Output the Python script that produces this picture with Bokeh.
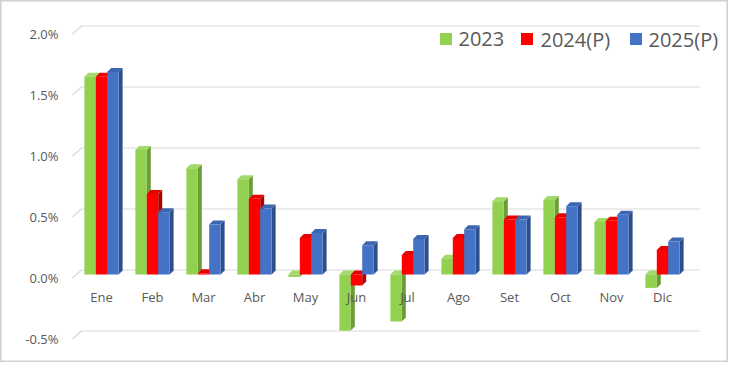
from bokeh.plotting import figure
from bokeh.models import Range1d
from bokeh.embed import file_html
from bokeh.resources import INLINE
from bokeh.core.properties import value

# ---------------- data ----------------
months = ["Ene", "Feb", "Mar", "Abr", "May", "Jun", "Jul", "Ago", "Set", "Oct", "Nov", "Dic"]
series_names = ["2023", "2024(P)", "2025(P)"]
v2023 = [1.62, 1.02, 0.87, 0.78, -0.02, -0.46, -0.385, 0.13, 0.60, 0.61, 0.43, -0.11]
v2024 = [1.62, 0.66, 0.01, 0.62, 0.30, -0.09, 0.16, 0.30, 0.45, 0.47, 0.44, 0.20]
v2025 = [1.66, 0.51, 0.41, 0.54, 0.34, 0.24, 0.29, 0.37, 0.45, 0.56, 0.49, 0.27]
y_ticks = [-0.5, 0.0, 0.5, 1.0, 1.5, 2.0]
y_tick_labels = ["-0.5%", "0.0%", "0.5%", "1.0%", "1.5%", "2.0%"]

# ---------------- style / layout ----------------
front_colors = ["#92D050", "#FF0000", "#4472C4"]
top_colors = ["#A2D968", "#E80000", "#3D66B2"]
side_colors = ["#6C9C36", "#B00000", "#2C4E8C"]
TXT = "#595959"
GRID = "#D9D9D9"
FONT = value("Open Sans")

W, H = 728, 362
PXX = 51.0    # px per category
PXY = 122.0   # px per 1 %
X0 = 101.0    # px (from left) of first group centre
Y0 = 274.0    # px (from top) of the zero line (front plane)
BW = 11.4 / PXX   # bar width in data units
DX = 4.0 / PXX    # 3D depth
DY = 4.0 / PXY


def dx(px):
    return (px - X0) / PXX


def dy(px):
    return (Y0 - px) / PXY


p = figure(width=W, height=H,
           x_range=Range1d(dx(0), dx(W)), y_range=Range1d(dy(H), dy(0)),
           output_backend="svg", toolbar_location=None,
           x_axis_location=None, y_axis_location=None, min_border=0)
p.grid.visible = False
p.outline_line_color = "#D0D0D0"
p.outline_line_width = 2
p.background_fill_color = "white"
p.border_fill_color = "white"

# ---------------- gridlines (3D wall) ----------------
g_xs, g_ys = [], []
for t in y_ticks:
    g_xs.append([dx(72), dx(81), dx(699)])
    g_ys.append([t - 3.5 / PXY, t + 4.5 / PXY, t + 4.5 / PXY])
p.multi_line(g_xs, g_ys, line_color=GRID, line_width=1.2)

# ---------------- y tick labels ----------------
p.text(x=[dx(58)] * len(y_ticks), y=[t - 3.5 / PXY for t in y_ticks], text=y_tick_labels,
       text_align="right", text_baseline="middle", text_font=FONT,
       text_font_size="13px", text_color=TXT)

# ---------------- 3D bars ----------------
all_series = [v2023, v2024, v2025]
for k, vals in enumerate(all_series):
    lefts, rights, bottoms, tops = [], [], [], []
    top_xs, top_ys, side_xs, side_ys = [], [], [], []
    for i, v in enumerate(vals):
        c = i + (k - 1) * BW
        l, r = c - BW / 2, c + BW / 2
        b, t = min(0.0, v), max(0.0, v)
        lefts.append(l); rights.append(r); bottoms.append(b); tops.append(t)
        top_xs.append([l, r, r + DX, l + DX])
        top_ys.append([t, t, t + DY, t + DY])
        side_xs.append([r, r + DX, r + DX, r])
        side_ys.append([b, b + DY, t + DY, t])
    p.patches(side_xs, side_ys, fill_color=side_colors[k], line_color=None)
    p.patches(top_xs, top_ys, fill_color=top_colors[k], line_color=None)
    p.quad(left=lefts, right=rights, bottom=bottoms, top=tops,
           fill_color=front_colors[k], line_color=None)

# ---------------- month labels ----------------
p.text(x=list(range(len(months))), y=[dy(296.7)] * len(months), text=months,
       text_align="center", text_baseline="middle", text_font=FONT,
       text_font_size="13px", text_color=TXT)

# ---------------- legend ----------------
leg_sq_px = [445.5, 526.5, 635.5]
leg_tx_px = [458.0, 540.0, 648.0]
leg_y = dy(38.5)
p.rect(x=[dx(v) for v in leg_sq_px], y=[leg_y] * 3, width=12, height=12,
       width_units="screen", height_units="screen",
       fill_color=front_colors, line_color=None)
p.text(x=[dx(v) for v in leg_tx_px], y=[leg_y] * 3, text=series_names,
       text_align="left", text_baseline="middle", text_font=FONT,
       text_font_size="20px", text_color=TXT)

open("out.html", "w").write(file_html(p, INLINE))
